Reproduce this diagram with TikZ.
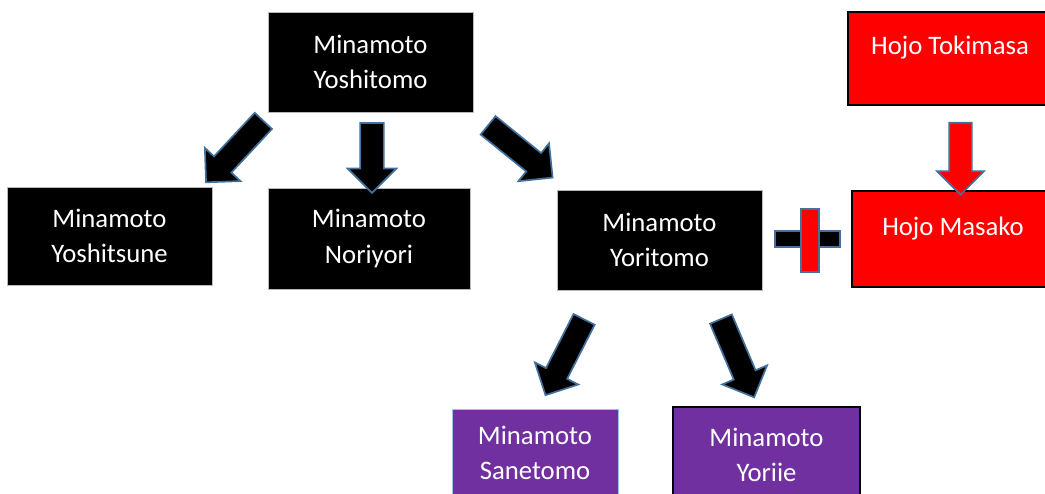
\documentclass[tikz,border=0pt]{standalone}
\usepackage{fontspec}
\setmainfont{Carlito}
\usetikzlibrary{shapes.arrows}

\definecolor{hojored}{HTML}{FF0000}
\definecolor{heirpurple}{HTML}{7030A0}
\definecolor{arrowedge}{HTML}{41719C}
\definecolor{sanetomoedge}{HTML}{9DC3E6}

\tikzset{
  person/.style={rectangle, fill=black, draw=gray!55, line width=0.6pt, text=white,
    align=center, font=\fontsize{19}{25}\selectfont, inner sep=0pt},
  hojo/.style={person, fill=hojored, draw=black, line width=1.5pt,
    text height=14pt, text depth=19pt},
  heir/.style={person, fill=heirpurple},
  fatarrow/.style={single arrow, draw=arrowedge, line width=1.2pt, fill=black,
    inner sep=0.275cm, minimum width=1.175cm, single arrow head extend=0.3125cm,
    single arrow head indent=0pt, single arrow tip angle=90},
  plusbar/.style={draw=arrowedge, line width=1.2pt}
}

\begin{document}
\begin{tikzpicture}[x=0.025cm, y=-0.025cm]
\useasboundingbox[fill=white] (0,0) rectangle (1045,493);

% Minamoto family
\node[person, minimum width=5.125cm, minimum height=2.5cm] (yoshitomo) at (370.5,62) {Minamoto\\Yoshitomo};
\node[person, minimum width=5.125cm, minimum height=2.45cm] (yoshitsune) at (109.5,236) {Minamoto\\Yoshitsune};
\node[person, minimum width=5.05cm, minimum height=2.525cm] (noriyori) at (369,238.5) {Minamoto\\Noriyori};
\node[person, minimum width=5.125cm, minimum height=2.5cm] (yoritomo) at (659.5,240) {Minamoto\\Yoritomo};

% Hojo family
\node[hojo, minimum width=5.1cm, minimum height=2.325cm] (tokimasa) at (950,58.5) {Hojo Tokimasa};
\node[hojo, minimum width=5.05cm, minimum height=2.4cm] (masako) at (953,239) {Hojo Masako};

% sons of Yoritomo
\node[heir, draw=sanetomoedge, minimum width=4.15cm, minimum height=2.2cm] (sanetomo) at (535,453) {Minamoto\\Sanetomo};
\node[heir, draw=black, line width=1.5pt, minimum width=4.675cm, minimum height=2.4cm] (yoriie) at (766.5,455) {Minamoto\\Yoriie};

% arrows from Yoshitomo
\node[fatarrow, minimum height=2.1cm, rotate=-133] (toyoshitsune) at (238.75,147.25) {};
\node[fatarrow, minimum height=1.75cm, rotate=-90] (tonoriyori) at (372,152) {};
\node[fatarrow, minimum height=2.075cm, rotate=-39] (toyoritomo) at (515.75,147.75) {};

% arrow from Tokimasa
\node[fatarrow, fill=hojored, inner sep=0.2625cm, minimum width=1.125cm,
  single arrow head extend=0.3cm, minimum height=1.8cm, rotate=-90] (tomasako) at (960.5,153) {};

% marriage
\draw[plusbar, fill=black] (775,231) rectangle (840,247);
\draw[plusbar, fill=hojored] (801,209) rectangle (819,272);

% arrows from Yoritomo
\node[fatarrow, minimum height=2.125cm, rotate=-117] (tosanetomo) at (567.5,352) {};
\node[fatarrow, minimum height=2.125cm, rotate=-67] (toyoriie) at (735.25,352.75) {};

\end{tikzpicture}
\end{document}
